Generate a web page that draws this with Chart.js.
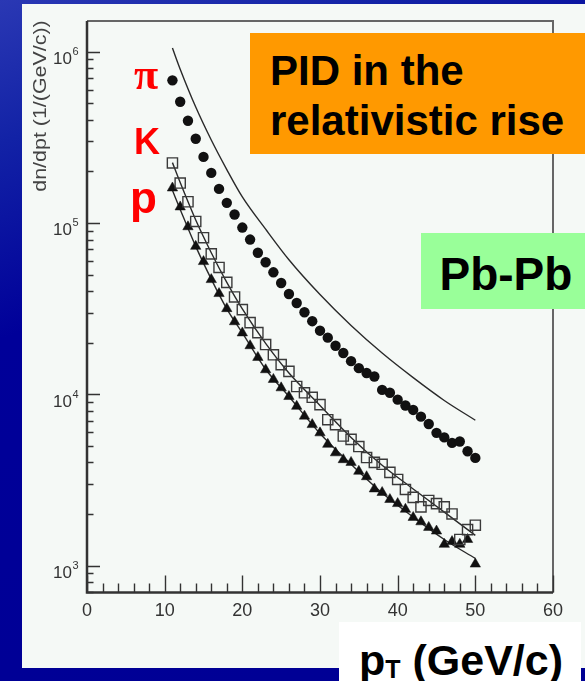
<!DOCTYPE html>
<html>
<head>
<meta charset="utf-8">
<script src="https://cdn.jsdelivr.net/npm/chart.js@4.4.0/dist/chart.umd.min.js"></script>
<style>
  body {
    margin: 0; width: 585px; height: 681px; overflow: hidden; position: relative;
    background: linear-gradient(160deg, #2a38b4 0%, #1222a6 16%, #000099 38%, #000094 100%);
    font-family: 'Liberation Sans', Arial, sans-serif;
  }
  #panel { position: absolute; left: 22px; top: 4px; width: 563px; height: 664px; background: #f5f9f6; }
  #wrap { position: absolute; left: 0; top: 0; }
  .box { position: absolute; }
  .note { position: absolute; font-weight: bold; white-space: nowrap; color: #000; }
  .red { color: #ff0000; }
</style>
</head>
<body>
<div id="panel"></div>
<div id="wrap"><canvas id="spectra" width="585" height="681"></canvas></div>

<div class="box" style="left:250px; top:33px; width:335px; height:121px; background:#ff9900;"></div>
<div class="note" style="left:270px; top:49.5px; font-size:42px; line-height:42px;">PID in the</div>
<div class="note" style="left:270px; top:99.5px; font-size:42px; line-height:42px;">relativistic rise</div>

<div class="box" style="left:421px; top:233px; width:164px; height:76px; background:#99ff99;"></div>
<div class="note" style="left:439.5px; top:251px; font-size:46px; line-height:46px;">Pb-Pb</div>

<div class="box" style="left:339px; top:622px; width:242px; height:59px; background:#ffffff;"></div>
<div class="note" style="left:359px; top:639px; font-size:43px; line-height:43px;">p<span style="font-size:25px; vertical-align:-3px;">T</span> (GeV/c)</div>

<div class="note red" style="left:134px; top:53px; font-size:44px; line-height:44px; font-family:'Liberation Serif', serif;">π</div>
<div class="note red" style="left:134px; top:123.5px; font-size:36px; line-height:36px;">K</div>
<div class="note red" style="left:130px; top:176px; font-size:44px; line-height:44px;">p</div>

<script>
// transverse momentum bins (GeV/c)
const pt = [11, 12, 13, 14, 15, 16, 17, 18, 19, 20,
            21, 22, 23, 24, 25, 26, 27, 28, 29, 30,
            31, 32, 33, 34, 35, 36, 37, 38, 39, 40,
            41, 42, 43, 44, 45, 46, 47, 48, 49, 50];

const pions = [6.8e5, 5.1e5, 3.95e5, 3.1e5, 2.43e5, 1.96e5, 1.58e5, 1.31e5, 1.12e5, 9.4e4,
               8.0e4, 6.7e4, 5.9e4, 5.15e4, 4.46e4, 3.85e4, 3.41e4, 3.01e4, 2.67e4, 2.35e4,
               2.14e4, 1.92e4, 1.74e4, 1.56e4, 1.42e4, 1.33e4, 1.27e4, 1.06e4, 1.02e4, 9.3e3,
               8.6e3, 8.1e3, 7.4e3, 6.7e3, 5.95e3, 5.6e3, 5.2e3, 5.3e3, 4.65e3, 4.25e3];

const kaons = [2.24e5, 1.71e5, 1.33e5, 1.02e5, 8.2e4, 6.6e4, 5.5e4, 4.5e4, 3.7e4, 3.12e4,
               2.62e4, 2.29e4, 1.95e4, 1.7e4, 1.49e4, 1.36e4, 1.11e4, 1.02e4, 9.6e3, 8.7e3,
               7.1e3, 6.65e3, 5.7e3, 5.45e3, 4.95e3, 4.27e3, 4.0e3, 3.9e3, 3.5e3, 3.18e3,
               2.78e3, 2.5e3, 2.2e3, 2.4e3, 2.3e3, 2.2e3, 2.0e3, 1.42e3, 1.62e3, 1.72e3];

const protons = [1.6e5, 1.24e5, 9.5e4, 7.3e4, 5.95e4, 4.67e4, 3.87e4, 3.16e4, 2.65e4, 2.28e4,
                 1.92e4, 1.64e4, 1.39e4, 1.22e4, 1.09e4, 9.7e3, 8.5e3, 7.45e3, 6.65e3, 5.95e3,
                 5.1e3, 4.55e3, 4.15e3, 4.0e3, 3.55e3, 3.3e3, 2.8e3, 2.67e3, 2.43e3, 2.3e3,
                 2.13e3, 1.91e3, 1.8e3, 1.67e3, 1.59e3, 1.33e3, 1.38e3, 1.33e3, 1.42e3, 1.02e3];

// smooth curves
const fitPt = [11, 12, 14, 16, 18, 20, 23, 26, 30, 34, 38, 42, 46, 50];
const upperCurve = [1.05e6, 7.9e5, 4.75e5, 3.05e5, 2.05e5, 1.42e5, 9.2e4, 6.1e4, 3.82e4, 2.52e4, 1.74e4, 1.25e4, 9.2e3, 7.05e3];
const kaonFit = [2.25e5, 1.72e5, 1.04e5, 6.7e4, 4.5e4, 3.15e4, 1.98e4, 1.33e4, 8.6e3, 5.6e3, 3.85e3, 2.8e3, 2.05e3, 1.5e3];
const protonFit = [1.55e5, 1.2e5, 7.3e4, 4.7e4, 3.15e4, 2.28e4, 1.4e4, 9.7e3, 5.9e3, 3.9e3, 2.65e3, 1.92e3, 1.42e3, 1.1e3];

const yDecades = [3, 4, 5, 6];
const yTitle = 'dn/dpt (1/(GeV/c))';

const FONT = "'Liberation Sans', Arial, sans-serif";
const pts = (xs, ys) => xs.map((x, i) => ({ x: x, y: ys[i] }));

function curve(label, ys) {
  return {
    label: label, data: pts(fitPt, ys), showLine: true, pointRadius: 0,
    borderColor: '#2a2a2a', borderWidth: 1.4, cubicInterpolationMode: 'monotone', fill: false
  };
}

const axisDecor = {
  id: 'axisDecor',
  afterDatasetsDraw(chart) {
    const ctx = chart.ctx;
    const x = chart.scales.x, y = chart.scales.y;
    const a = chart.chartArea;
    ctx.save();
    // frame
    ctx.strokeStyle = '#666';
    ctx.lineWidth = 2;
    ctx.beginPath();
    ctx.moveTo(a.left, a.top); ctx.lineTo(a.right, a.top); ctx.lineTo(a.right, a.bottom);
    ctx.stroke();
    ctx.strokeStyle = '#333';
    ctx.lineWidth = 2.5;
    ctx.beginPath();
    ctx.moveTo(a.left, a.top); ctx.lineTo(a.left, a.bottom); ctx.lineTo(a.right, a.bottom);
    ctx.stroke();

    // inward ticks
    ctx.lineWidth = 1.4;
    ctx.beginPath();
    for (let k = 2; k <= 6; k++) {
      for (let m = 1; m <= 9; m++) {
        const v = m * Math.pow(10, k);
        if (v < y.min || v > y.max) continue;
        const py = Math.round(y.getPixelForValue(v)) + 0.5;
        ctx.moveTo(a.left, py);
        ctx.lineTo(a.left + (m === 1 ? 13 : 6.5), py);
      }
    }
    for (let v = 0; v <= 60; v += 2) {
      const px = Math.round(x.getPixelForValue(v)) + 0.5;
      ctx.moveTo(px, a.bottom);
      ctx.lineTo(px, a.bottom - (v % 10 === 0 ? 17 : 9));
    }
    ctx.stroke();

    // y tick labels 10^k
    ctx.fillStyle = '#333';
    yDecades.forEach(k => {
      const py = y.getPixelForValue(Math.pow(10, k));
      ctx.font = '17px ' + FONT;
      ctx.textAlign = 'right';
      ctx.textBaseline = 'alphabetic';
      ctx.fillText('10', 72, py + 12.5);
      ctx.font = '11px ' + FONT;
      ctx.textAlign = 'left';
      ctx.fillText(String(k), 72.5, py + 3.5);
    });

    // y title
    ctx.fillStyle = '#444';
    ctx.font = '18px ' + FONT;
    ctx.translate(46, 106);
    ctx.rotate(-Math.PI / 2);
    ctx.scale(1.19, 1);
    ctx.textAlign = 'center';
    ctx.fillText(yTitle, 0, 0);
    ctx.restore();
  }
};

new Chart(document.getElementById('spectra').getContext('2d'), {
  type: 'scatter',
  data: {
    datasets: [
      {
        label: 'pi', data: pts(pt, pions), pointStyle: 'circle', pointRadius: 5.2,
        backgroundColor: '#111', borderColor: '#111', borderWidth: 0
      },
      {
        label: 'K', data: pts(pt, kaons), pointStyle: 'rect', pointRadius: 7.2,
        backgroundColor: 'rgba(0,0,0,0)', borderColor: '#3a3a3a', borderWidth: 1.4
      },
      {
        label: 'p', data: pts(pt, protons), pointStyle: 'triangle', pointRadius: 6,
        backgroundColor: '#111', borderColor: '#111', borderWidth: 0.5
      },
      curve('total', upperCurve),
      curve('K fit', kaonFit),
      curve('p fit', protonFit)
    ]
  },
  options: {
    responsive: false,
    animation: false,
    devicePixelRatio: 1,
    layout: { padding: { left: 87, top: 21, right: 32, bottom: 51 } },
    plugins: { legend: { display: false }, tooltip: { enabled: false } },
    scales: {
      x: {
        type: 'linear', min: 0, max: 60,
        grid: { display: false, drawTicks: false },
        border: { display: false },
        ticks: { stepSize: 10, padding: 8, color: '#333', font: { size: 18, family: FONT } }
      },
      y: { type: 'logarithmic', min: 697, max: 1.51e6, display: false }
    }
  },
  plugins: [axisDecor]
});
</script>
</body>
</html>
